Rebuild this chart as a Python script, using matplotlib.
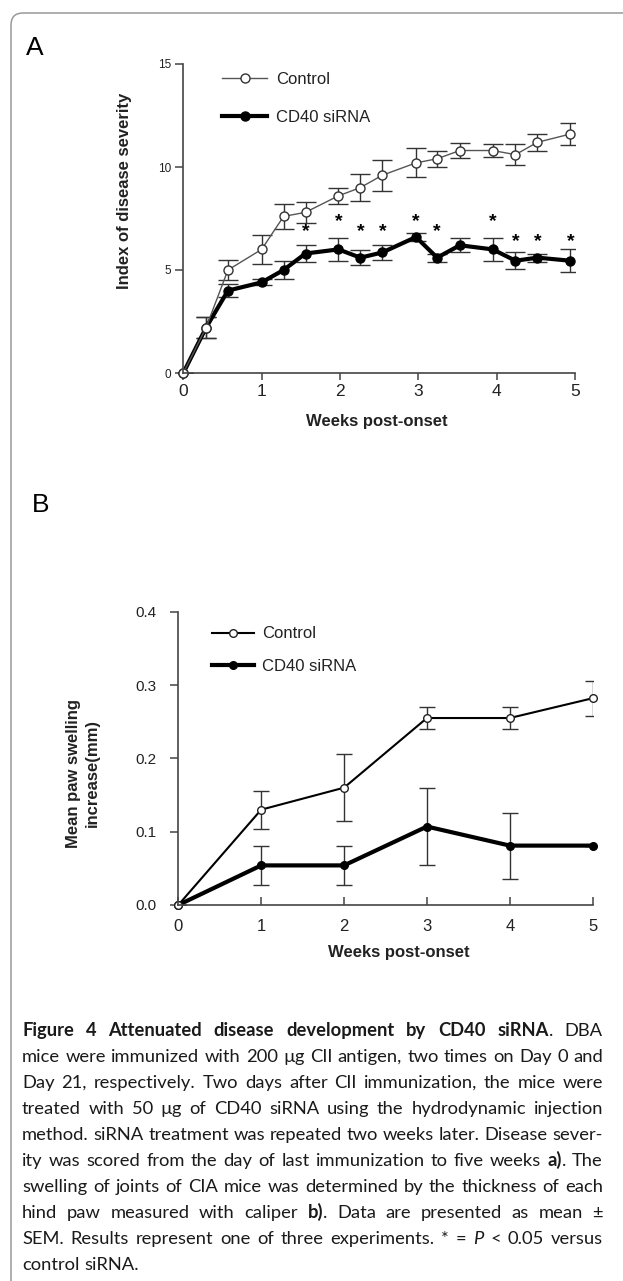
import matplotlib
matplotlib.use('Agg')
import matplotlib.pyplot as plt
from matplotlib.patches import FancyBboxPatch
from matplotlib.lines import Line2D

W, H = 623, 1281

# panel A: disease severity index
weeks_a = [0, 0.29, 0.57, 1.0, 1.28, 1.56, 1.98, 2.26, 2.54, 2.97, 3.24, 3.53, 3.95, 4.24, 4.52, 4.94]
control_a = [0, 2.2, 5.0, 6.0, 7.6, 7.8, 8.6, 9.0, 9.6, 10.2, 10.4, 10.8, 10.8, 10.6, 11.2, 11.6]
control_a_err = [0, 0.5, 0.5, 0.7, 0.6, 0.5, 0.4, 0.65, 0.75, 0.7, 0.4, 0.35, 0.3, 0.5, 0.4, 0.55]
cd40_a = [0, 2.2, 4.0, 4.4, 5.0, 5.8, 6.0, 5.6, 5.85, 6.6, 5.6, 6.2, 6.0, 5.45, 5.6, 5.45]
cd40_a_err = [0, 0.5, 0.3, 0.15, 0.45, 0.4, 0.55, 0.35, 0.35, 0.2, 0.2, 0.35, 0.55, 0.4, 0.2, 0.55]
star_x = [1.56, 1.98, 2.26, 2.54, 2.97, 3.24, 3.95, 4.24, 4.52, 4.94]
star_y = [6.85, 7.35, 6.85, 6.85, 7.35, 6.85, 7.35, 6.4, 6.4, 6.4]

# panel B: paw swelling
weeks_b = [0, 1, 2, 3, 4, 5]
control_b = [0, 0.13, 0.16, 0.255, 0.255, 0.282]
control_b_err = [0, 0.026, 0.046, 0.015, 0.015, 0.024]
cd40_b = [0, 0.054, 0.054, 0.107, 0.081, 0.081]
cd40_b_err = [0, 0.027, 0.027, 0.053, 0.045, 0]

caption = [
    [("Figure 4 Attenuated disease development by CD40 siRNA", 'b'), (". DBA", 'n')],
    [("mice were immunized with 200 µg CII antigen, two times on Day 0 and", 'n')],
    [("Day 21, respectively. Two days after CII immunization, the mice were", 'n')],
    [("treated with 50 µg of CD40 siRNA using the hydrodynamic injection", 'n')],
    [("method. siRNA treatment was repeated two weeks later. Disease sever-", 'n')],
    [("ity was scored from the day of last immunization to five weeks ", 'n'), ("a)", 'b'), (". The", 'n')],
    [("swelling of joints of CIA mice was determined by the thickness of each", 'n')],
    [("hind paw measured with caliper ", 'n'), ("b)", 'b'), (". Data are presented as mean ±", 'n')],
    [("SEM. Results represent one of three experiments. * = ", 'n'), ("P", 'i'), (" < 0.05 versus", 'n')],
    [("control siRNA.", 'n')],
]

plt.rcParams['font.family'] = ['Liberation Sans', 'DejaVu Sans']
ink = '#222222'

fig = plt.figure(figsize=(W / 100, H / 100), dpi=100)

# background layer in pixel units (y down) for frame, panel letters and caption
bg = fig.add_axes([0, 0, 1, 1])
bg.set_xlim(0, W)
bg.set_ylim(H, 0)
bg.axis('off')
bg.add_patch(FancyBboxPatch((11, 13), 800, 1500, boxstyle='round,pad=0,rounding_size=12',
                            fc='none', ec='#999999', lw=1.1))
bg.text(26, 55, 'A', fontsize=19, color='black', va='baseline')
bg.text(32, 512, 'B', fontsize=19, color='black', va='baseline')


def style_axes(ax):
    ax.set_facecolor('none')
    for s in ['top', 'right']:
        ax.spines[s].set_visible(False)
    for s in ['left', 'bottom']:
        ax.spines[s].set_color('#444444')
        ax.spines[s].set_linewidth(1.2)


# ---- panel A
ax1 = fig.add_axes([183.3 / W, 1 - 373 / H, 391.7 / W, 309 / H])
style_axes(ax1)
c = ax1.errorbar(weeks_a, cd40_a, yerr=cd40_a_err, color='black', lw=3.0, marker='o', ms=6.5,
                 mfc='black', mec='black', ecolor='#333333', elinewidth=1.0, capsize=7, capthick=1.0)
c.lines[0].set_clip_on(False)
c = ax1.errorbar(weeks_a, control_a, yerr=control_a_err, color='#555555', lw=1.0, marker='o', ms=6.5,
                 mfc='white', mec='#333333', mew=1.0, ecolor='#333333', elinewidth=1.0, capsize=7,
                 capthick=1.0)
c.lines[0].set_clip_on(False)
for x, y in zip(star_x, star_y):
    ax1.text(x, y, '*', ha='center', va='center', fontsize=14, fontweight='bold', color='black')
ax1.set_xlim(0, 5)
ax1.set_ylim(0, 15)
ax1.set_xticks([0, 1, 2, 3, 4, 5])
ax1.set_yticks([0, 5, 10, 15])
ax1.tick_params(axis='x', direction='out', length=5, width=1.1, color='#444444',
                labelsize=12.5, labelcolor=ink, pad=3)
ax1.tick_params(axis='y', direction='out', length=6, width=1.1, color='#444444',
                labelsize=8.5, labelcolor=ink, pad=3)
ax1.set_xlabel('Weeks post-onset', fontsize=12, fontweight='bold', color=ink)
ax1.xaxis.set_label_coords(0.495, -0.133)
ax1.set_ylabel('Index of disease severity', fontsize=12, fontweight='bold', color=ink)
ax1.yaxis.set_label_coords(-0.131, 0.59)
hA = [Line2D([], [], color='#555555', lw=1.0, marker='o', ms=6.5, mfc='white', mec='#333333'),
      Line2D([], [], color='black', lw=3.0, marker='o', ms=6.5, mfc='black', mec='black')]
ax1.legend(hA, ['Control', 'CD40 siRNA'], loc='upper left', bbox_to_anchor=(0.1, 0.975),
           frameon=False, fontsize=12, handlelength=2.7, handletextpad=0.5, labelspacing=1.37,
           borderpad=0, borderaxespad=0, labelcolor=ink)

# ---- panel B
ax2 = fig.add_axes([178.3 / W, 1 - 905 / H, 414.4 / W, 293.3 / H])
style_axes(ax2)
c = ax2.errorbar(weeks_b, cd40_b, yerr=cd40_b_err, color='black', lw=3.0, marker='o', ms=5.5,
                 mfc='black', mec='black', ecolor='#333333', elinewidth=1.0, capsize=6, capthick=1.0)
c.lines[0].set_clip_on(False)
c = ax2.errorbar(weeks_b, control_b, yerr=control_b_err, color='black', lw=1.5, marker='o', ms=5.5,
                 mfc='white', mec='#222222', mew=1.0, ecolor='#333333', elinewidth=1.0, capsize=6,
                 capthick=1.0)
c.lines[0].set_clip_on(False)
ax2.set_xlim(0, 5)
ax2.set_ylim(0, 0.4)
ax2.set_xticks([0, 1, 2, 3, 4, 5])
ax2.set_yticks([0, 0.1, 0.2, 0.3, 0.4])
ax2.set_yticklabels(['0.0', '0.1', '0.2', '0.3', '0.4'])
ax2.tick_params(axis='x', direction='in', length=6, width=1.1, color='#444444',
                labelsize=12, labelcolor=ink, pad=10)
ax2.tick_params(axis='y', direction='out', length=6, width=1.1, color='#444444',
                labelsize=11, labelcolor=ink, pad=10)
ax2.set_xlabel('Weeks post-onset', fontsize=12, fontweight='bold', color=ink)
ax2.xaxis.set_label_coords(0.532, -0.138)
ax2.set_ylabel('Mean paw swelling\nincrease(mm)', fontsize=12, fontweight='bold', color=ink,
               linespacing=1.3)
ax2.yaxis.set_label_coords(-0.19, 0.45)
hB = [Line2D([], [], color='black', lw=1.5, marker='o', ms=5.5, mfc='white', mec='#222222'),
      Line2D([], [], color='black', lw=3.0, marker='o', ms=5.5, mfc='black', mec='black')]
ax2.legend(hB, ['Control', 'CD40 siRNA'], loc='upper left', bbox_to_anchor=(0.081, 0.95),
           frameon=False, fontsize=12, handlelength=2.5, handletextpad=0.5, labelspacing=1.05,
           borderpad=0, borderaxespad=0, labelcolor=ink)

# ---- caption, justified word by word
renderer = fig.canvas.get_renderer()
cap_font = ['Lato', 'DejaVu Sans']
x0, x1 = 22, 603
styles = {'n': dict(), 'b': dict(fontweight='bold'), 'i': dict(fontstyle='italic')}


def split_words(runs):
    words, cur = [], []
    for text, st in runs:
        parts = text.split(' ')
        for k, p in enumerate(parts):
            if k > 0:
                words.append(cur)
                cur = []
            if p:
                cur.append((p, st))
    words.append(cur)
    return [w for w in words if w]


def text_w(s, size, st='n'):
    t = bg.text(0, 0, s, fontsize=size, family=cap_font, **styles[st])
    w = t.get_window_extent(renderer).width
    t.remove()
    return w


def space_w(size):
    return text_w('a a', size) - 2 * text_w('a', size)


def natural_width(runs, size):
    words = split_words(runs)
    ws = sum(text_w(p, size, st) for w in words for p, st in w)
    return ws + (len(words) - 1) * space_w(size)


# fit the font so the widest caption line fills the column
cap_size = 12.0
widest = max(natural_width(r, cap_size) for r in caption[:-1])
cap_size = cap_size * (x1 - x0 - 4) / widest

sp = space_w(cap_size)
for i, runs in enumerate(caption):
    yb = 1036 + 26 * i
    placed = []
    for w in split_words(runs):
        pieces = []
        for p, st in w:
            t = bg.text(0, yb, p, fontsize=cap_size, family=cap_font, color='#1a1a1a',
                        va='baseline', ha='left', **styles[st])
            pieces.append((t, t.get_window_extent(renderer).width))
        placed.append(pieces)
    widths = [sum(pw for _, pw in pcs) for pcs in placed]
    if i < len(caption) - 1 and len(placed) > 1:
        gap = (x1 - x0 - sum(widths)) / (len(placed) - 1)
    else:
        gap = sp
    x = x0
    for pcs, ww in zip(placed, widths):
        xx = x
        for t, pw in pcs:
            t.set_x(xx)
            xx += pw
        x += ww + gap

fig.savefig('out.png', dpi=100)
